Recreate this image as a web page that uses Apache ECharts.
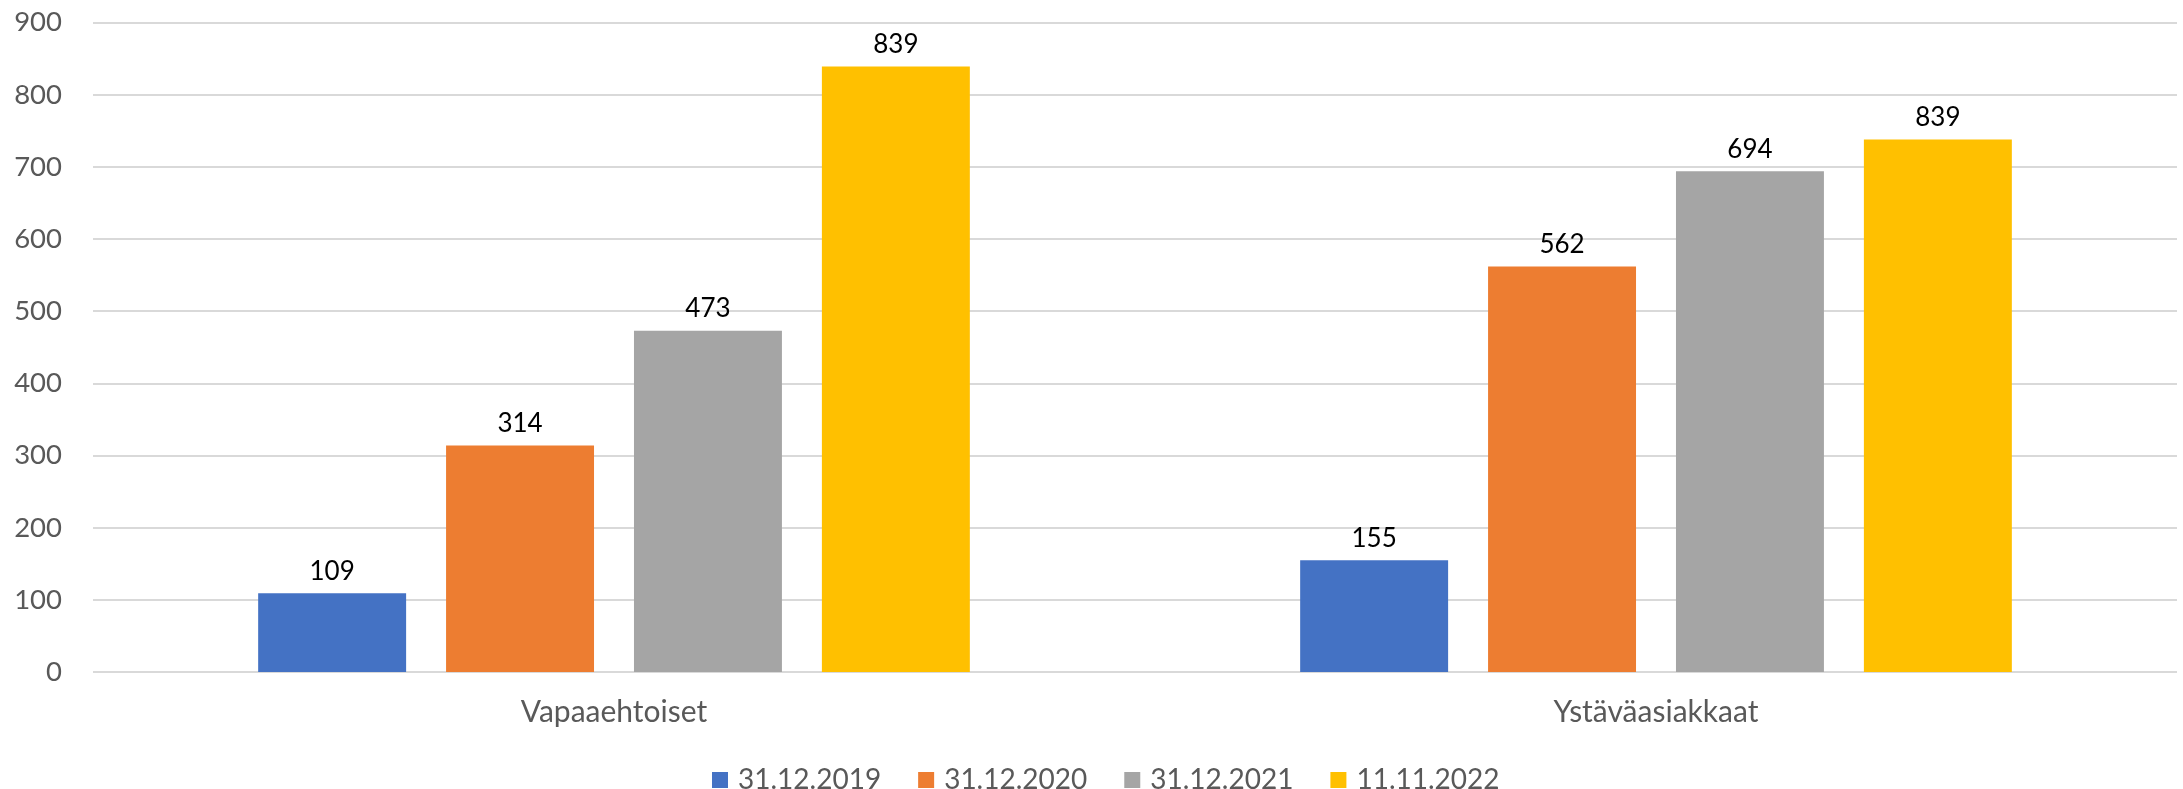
<!DOCTYPE html>
<html>
<head>
<meta charset="utf-8">
<script src="https://cdn.jsdelivr.net/npm/echarts@6/dist/echarts.min.js"></script>
<style>
html,body{margin:0;padding:0;background:#fff;}
#chart{width:2183px;height:789px;}
</style>
</head>
<body>
<div id="chart"></div>
<script>
const categories = ['Vapaaehtoiset', 'Ystäväasiakkaat'];
const seriesNames = ['31.12.2019', '31.12.2020', '31.12.2021', '11.11.2022'];
const values2019 = [109, 155];
const values2020 = [314, 562];
const values2021 = [473, 694];
const values2022 = [839, 738];
const labels2019 = ['109', '155'];
const labels2020 = ['314', '562'];
const labels2021 = ['473', '694'];
const labels2022 = ['839', '839'];
const yTicks = [0, 100, 200, 300, 400, 500, 600, 700, 800, 900];

const colors = ['#4472C4', '#ED7D31', '#A5A5A5', '#FFC000'];
const allValues = [values2019, values2020, values2021, values2022];
const allLabels = [labels2019, labels2020, labels2021, labels2022];
const FONT = 'Lato';

const chart = echarts.init(document.getElementById('chart'));
chart.setOption({
  animation: false,
  backgroundColor: '#ffffff',
  color: colors,
  grid: { left: 93, right: 6, top: 22.5, bottom: 117, containLabel: false },
  legend: {
    left: 707,
    top: 760,
    itemWidth: 16,
    itemHeight: 16,
    itemGap: 37,
    icon: 'rect',
    data: seriesNames,
    textStyle: { fontFamily: FONT, fontSize: 28, color: '#595959', lineHeight: 30, padding: [0, 0, 0, 5] }
  },
  xAxis: {
    type: 'category',
    data: categories,
    axisLine: { show: false },
    axisTick: { show: false },
    axisLabel: { fontFamily: FONT, fontSize: 30, color: '#595959', margin: 25 }
  },
  yAxis: {
    type: 'value',
    min: yTicks[0],
    max: yTicks[yTicks.length - 1],
    interval: 100,
    axisLine: { show: false },
    axisTick: { show: false },
    axisLabel: { fontFamily: FONT, fontSize: 27.5, color: '#595959', margin: 31 },
    splitLine: { lineStyle: { color: '#D9D9D9', width: 2 } }
  },
  series: seriesNames.map((name, i) => ({
    name: name,
    type: 'bar',
    data: allValues[i],
    barGap: '27%',
    barCategoryGap: '31.7%',
    itemStyle: { color: colors[i] },
    label: {
      show: true,
      position: 'top',
      distance: 9,
      fontFamily: FONT,
      fontSize: 26,
      color: '#000000',
      formatter: p => allLabels[i][p.dataIndex]
    }
  }))
});
</script>
</body>
</html>
